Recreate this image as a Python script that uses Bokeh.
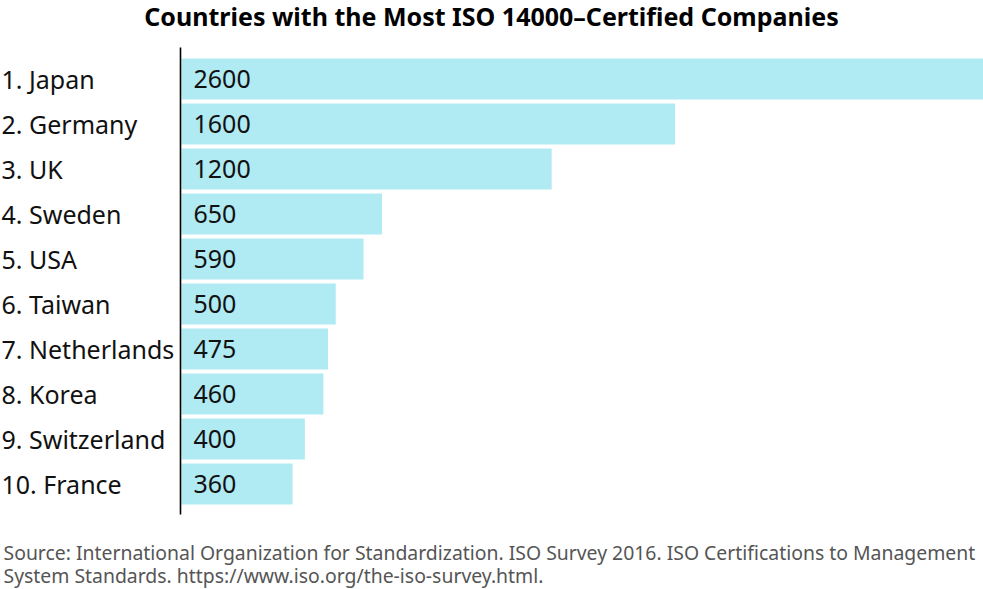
from bokeh.plotting import figure
from bokeh.models import Range1d, Label, ColumnDataSource
from bokeh.core.properties import value
from bokeh.embed import file_html
from bokeh.resources import INLINE

countries = ["1. Japan", "2. Germany", "3. UK", "4. Sweden", "5. USA",
             "6. Taiwan", "7. Netherlands", "8. Korea", "9. Switzerland", "10. France"]
companies = [2600, 1600, 1200, 650, 590, 500, 475, 460, 400, 360]
title_text = "Countries with the Most ISO 14000\u2013Certified Companies"
source_lines = ["Source: International Organization for Standardization. ISO Survey 2016. ISO Certifications to Management",
                "System Standards. https://www.iso.org/the-iso-survey.html."]

W, H = 983, 589
X0 = 181.0            # pixel of value 0
S = (W - X0) / max(companies)   # px per unit
Y0 = 78.5             # pixel centre of first bar
PITCH = 45.0

def fx(px):
    return (px - X0) / S

def fy(py):
    return (py - Y0) / PITCH

FONT = "Noto Sans"

p = figure(width=W, height=H, output_backend="svg", toolbar_location=None,
           x_range=Range1d(fx(0), fx(W)), y_range=Range1d(fy(H), fy(0)),
           min_border=0, outline_line_color=None)
p.axis.visible = False
p.grid.visible = False
p.background_fill_color = "white"
p.border_fill_color = "white"

idx = list(range(len(countries)))
src = ColumnDataSource(dict(y=idx, right=companies, name=countries,
                            label=[str(v) for v in companies]))

p.hbar(y="y", left=0, right="right", height=41 / PITCH, source=src,
       fill_color="#B0EAF3", line_color=None)

# axis line
p.segment(x0=fx(X0 - 1), y0=fy(47), x1=fx(X0 - 1), y1=fy(514),
          line_color="black", line_width=1.6)

p.text(x=fx(1), y="y", text="name", source=src, text_font=value(FONT),
       text_font_size="25px", text_align="left", text_baseline="middle",
       text_color="#111111")
p.text(x=fx(193), y="y", text="label", source=src, text_font=value(FONT),
       text_font_size="25px", text_align="left", text_baseline="middle",
       text_color="#111111")

p.add_layout(Label(x=fx(491), y=fy(15.5), text=title_text, text_font=FONT,
                   text_font_size="25px", text_font_style="bold",
                   text_align="center", text_baseline="middle",
                   text_color="black"))
for i, line in enumerate(source_lines):
    p.add_layout(Label(x=fx(3), y=fy(552 + 23 * i), text=line, text_font=FONT,
                       text_font_size="19.4px", text_align="left",
                       text_baseline="middle", text_color="#555555"))

open("out.html", "w").write(file_html(p, INLINE))
